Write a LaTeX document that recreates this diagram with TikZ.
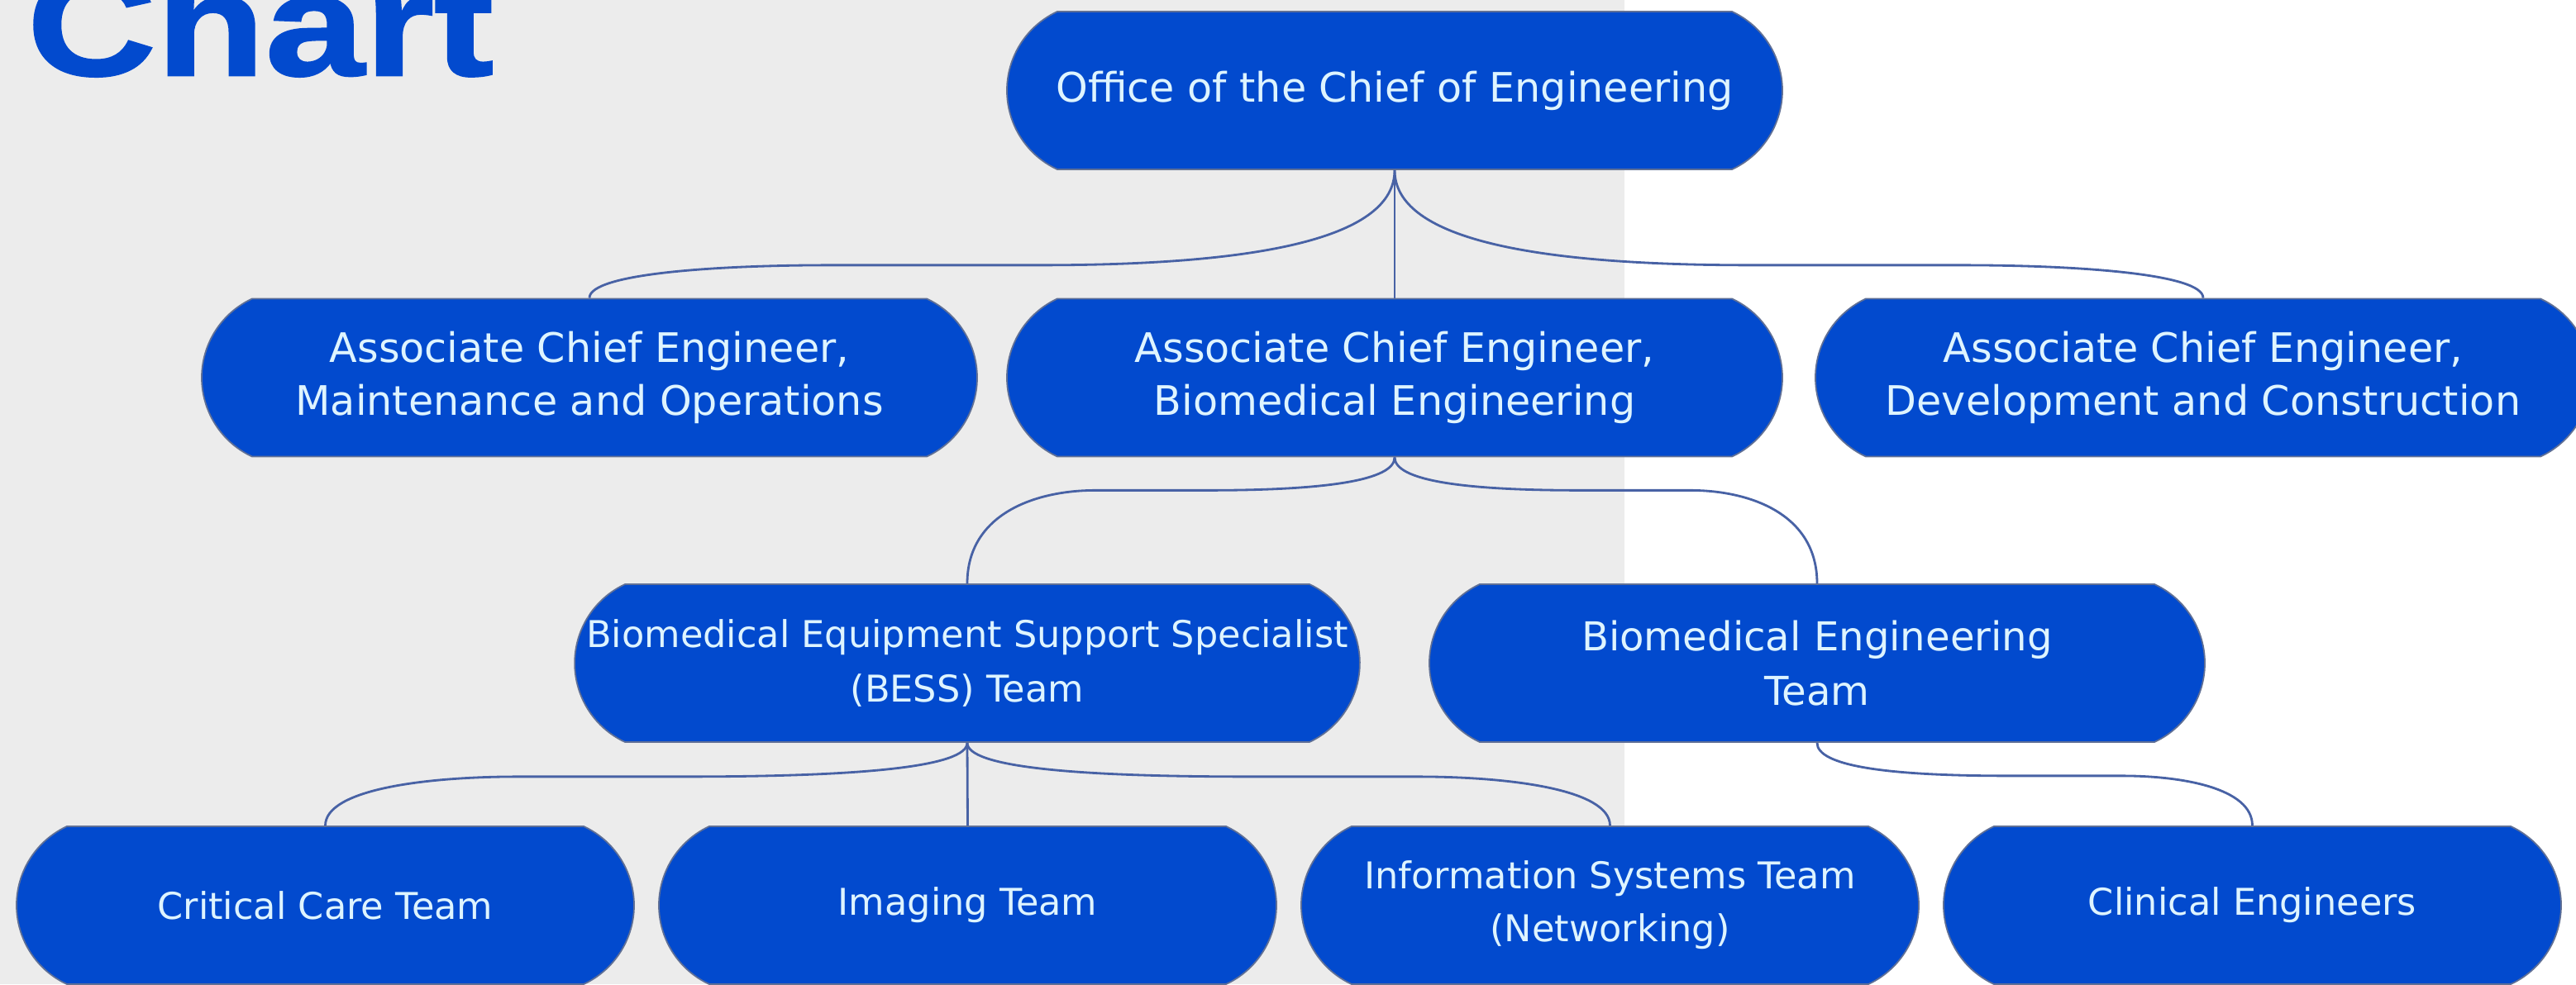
\documentclass[tikz,border=0pt]{standalone}
\usepackage{fontspec}
\setmainfont{DejaVu Sans}
\newfontfamily\titlefont[FakeStretch=1.23,FakeBold=1.5]{Liberation Sans Bold}
\usetikzlibrary{shapes.misc,calc}

\definecolor{boxblue}{RGB}{2,74,206}
\definecolor{boxtext}{RGB}{222,244,255}
\definecolor{boxedge}{RGB}{96,112,150}
\definecolor{linkblue}{RGB}{72,98,165}
\definecolor{paper}{RGB}{236,236,236}

\def\unitfont{\fontsize{14}{18.2}\selectfont}
\def\teamfont{\fontsize{12.7}{18.2}\selectfont}

\tikzset{
  unit/.style={rounded rectangle, rounded rectangle arc length=130,
    fill=boxblue, draw=boxedge, line width=0.5pt, text=boxtext,
    align=center, inner sep=0pt, font=\unitfont,
    minimum width=9.38cm, minimum height=1.91cm},
  team/.style={unit, font=\teamfont, minimum width=7.47cm},
  link/.style={draw=linkblue, line width=0.8pt},
  % parent goes down, runs flat, then drops into the child
  branch/.style={to path={
    let \p1=(\tikztostart), \p2=(\tikztotarget) in
    .. controls (\x1,{\y1-0.7*#1}) and ({\x1+0.16*(\x2-\x1)},{\y1-#1})
    .. ({\x1+0.44*(\x2-\x1)},{\y1-#1})
    -- ({\x2-0.3*(\x2-\x1)},{\y1-#1})
    .. controls ({\x2-0.16*(\x2-\x1)},{\y1-#1}) and (\x2,{\y1-#1-0.25*(\y1-#1-\y2)})
    .. (\tikztotarget)}}
}

\begin{document}
\begin{tikzpicture}
\useasboundingbox (0,0) rectangle (31.16,11.91);
\clip (0,0) rectangle (31.16,11.91);
\fill[white] (0,0) rectangle (31.16,11.91);
\fill[paper] (0,0) rectangle (19.65,11.91);

\node[anchor=base west, inner sep=0pt, text=boxblue,
  font=\titlefont\fontsize{50}{50}\selectfont] (title) at (0.32,11.0) {Chart};

\node[unit] (chief) at (16.87,10.815) {Office of the Chief of Engineering};
\node[unit] (maint) at (7.13,7.34) {Associate Chief Engineer,\\Maintenance and Operations};
\node[unit] (bmeng) at (16.87,7.34) {Associate Chief Engineer,\\Biomedical Engineering};
\node[unit] (devcon) at (26.65,7.34) {Associate Chief Engineer,\\Development and Construction};
\node[unit, font=\fontsize{12.7}{18.6}\selectfont] (bess) at (11.70,3.885)
  {Biomedical Equipment Support Specialist\\(BESS) Team};
\node[unit, font=\fontsize{13.7}{18.6}\selectfont] (bmteam) at (21.98,3.885) {Biomedical Engineering\\Team};
\node[team] (critical) at (3.935,0.955) {Critical Care Team};
\node[team] (imaging) at (11.705,0.955) {Imaging Team};
\node[team] (infosys) at (19.475,0.955) {Information Systems Team\\(Networking)};
\node[team] (clinical) at (27.245,0.955) {Clinical Engineers};

\draw[link] (chief.south) to[branch=1.15cm] (maint.north);
\draw[link] (chief.south) -- (bmeng.north);
\draw[link] (chief.south) to[branch=1.15cm] (devcon.north);
\draw[link] (bmeng.south) to[branch=0.4cm] (bess.north);
\draw[link] (bmeng.south) to[branch=0.4cm] (bmteam.north);
\draw[link] (bess.south) to[branch=0.41cm] (critical.north);
\draw[link] (bess.south) -- (imaging.north);
\draw[link] (bess.south) to[branch=0.41cm] (infosys.north);
\draw[link] (bmteam.south) to[branch=0.4cm] (clinical.north);
\end{tikzpicture}
\end{document}
